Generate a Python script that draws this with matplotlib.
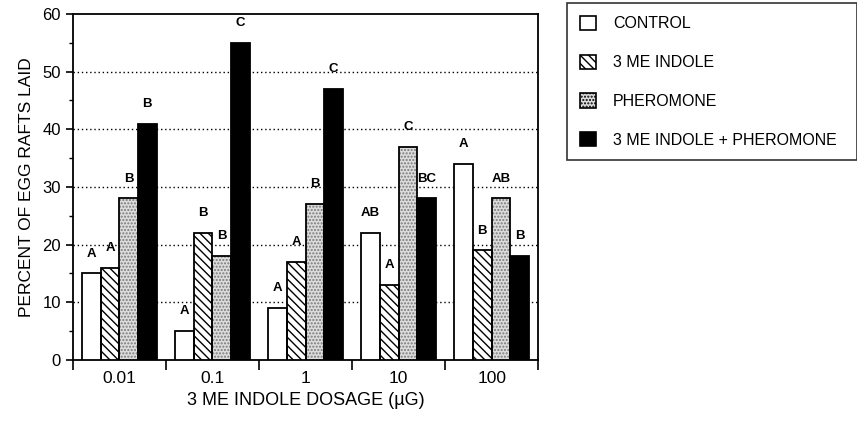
import matplotlib
matplotlib.use("Agg")
import numpy as np
from matplotlib import pyplot as plt
from matplotlib.patches import Patch

plt.rcParams['font.family'] = ['Liberation Sans', 'DejaVu Sans']
plt.rcParams['hatch.linewidth'] = 1.0

dosages = ['0.01', '0.1', '1', '10', '100']
series = ['CONTROL', '3 ME INDOLE', 'PHEROMONE', '3 ME INDOLE + PHEROMONE']
control = [15, 5, 9, 22, 34]
indole = [16, 22, 17, 13, 19]
pheromone = [28, 18, 27, 37, 28]
combined = [41, 55, 47, 28, 18]
letters_control = ['A', 'A', 'A', 'AB', 'A']
letters_indole = ['A', 'B', 'A', 'A', 'B']
letters_pheromone = ['B', 'B', 'B', 'C', 'AB']
letters_combined = ['B', 'C', 'C', 'BC', 'B']

values = [control, indole, pheromone, combined]
letters = [letters_control, letters_indole, letters_pheromone, letters_combined]
# facecolor, hatch, hatch colour
styles = [
    ('white', None, 'black'),
    ('white', '\\\\\\\\', 'black'),
    ('#dcdcdc', '.....', '#7a7a7a'),
    ('black', None, 'black'),
]

fig = plt.figure(figsize=(8.57, 4.23), dpi=100)
ax = fig.add_axes([0.085, 0.149, 0.543, 0.818])

x = np.arange(len(dosages))
width = 0.2
for i, (vals, labs, (fc, hatch, hc)) in enumerate(zip(values, letters, styles)):
    pos = x - 0.3 + i * width
    # fill + texture first, then black outline on top
    ax.bar(pos, vals, width, facecolor=fc, hatch=hatch, edgecolor=hc,
           linewidth=0, zorder=3)
    ax.bar(pos, vals, width, facecolor='none', edgecolor='black',
           linewidth=1.3, zorder=3.5)
    for px, v, lab in zip(pos, vals, labs):
        ax.annotate(lab, (px, v), xytext=(0, 10), textcoords='offset points',
                    ha='center', va='bottom', fontsize=9.5, fontweight='bold',
                    zorder=4)

ax.set_xlim(-0.5, 4.5)
ax.set_ylim(0, 60)
ax.set_yticks(range(0, 61, 10))
ax.set_yticks(range(5, 60, 10), minor=True)
ax.tick_params(axis='y', which='major', length=5, width=1.2, labelsize=12)
ax.tick_params(axis='y', which='minor', length=3, width=1.0)
for yv in range(10, 60, 10):
    ax.axhline(yv, color='black', linestyle=(0, (1, 2)), linewidth=1.0, zorder=1)

ax.set_xticks(np.arange(-0.5, 5, 1))
ax.set_xticklabels([])
ax.set_xticks(x, minor=True)
ax.set_xticklabels(dosages, minor=True)
ax.tick_params(axis='x', which='major', length=7, width=1.2, direction='out')
ax.tick_params(axis='x', which='minor', length=0, labelsize=12.5, pad=8)

for s in ax.spines.values():
    s.set_linewidth(1.3)

ax.set_ylabel('PERCENT OF EGG RAFTS LAID', fontsize=12.5, labelpad=6)
ax.set_xlabel('3 ME INDOLE DOSAGE (µG)', fontsize=13, labelpad=4)

handles = [Patch(facecolor=fc, hatch=hatch, edgecolor='black', linewidth=1.2)
           for fc, hatch, hc in styles]
leg = fig.legend(handles, series, loc='upper left',
                 bbox_to_anchor=(0.662, 0.615, 0.338, 0.378), mode='expand',
                 fontsize=11.5, frameon=True, fancybox=False, handlelength=1.0,
                 handleheight=1.0, labelspacing=1.45, borderpad=0.8,
                 handletextpad=1.05, borderaxespad=0)
leg.get_frame().set_edgecolor('black')
leg.get_frame().set_linewidth(1.2)

fig.savefig('out.png', dpi=100)
